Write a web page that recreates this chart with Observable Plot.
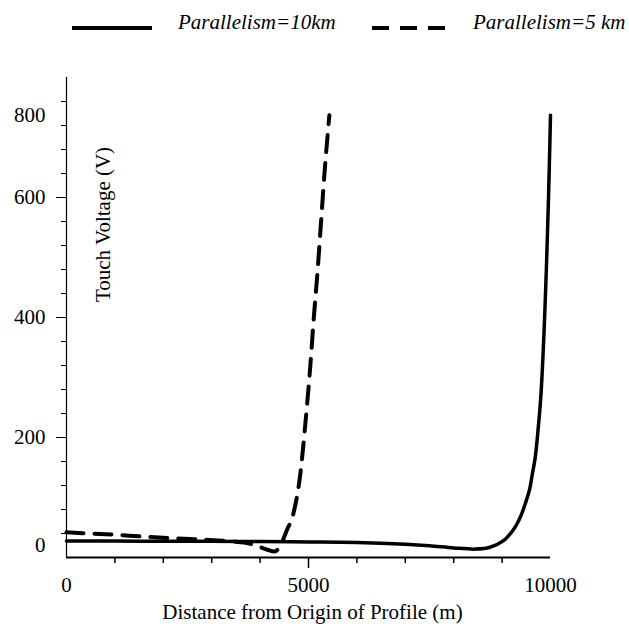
<!DOCTYPE html>
<html>
<head>
<meta charset="utf-8">
<script src="https://cdn.jsdelivr.net/npm/d3@7"></script>
<script src="https://cdn.jsdelivr.net/npm/@observablehq/plot@0.6"></script>
<style>
  html, body { margin: 0; padding: 0; background: #fff; }
  #wrap { width: 629px; height: 624px; position: relative; font-family: "Liberation Serif", "Times New Roman", serif; }
  #legend { display: block; }
</style>
</head>
<body>
<div id="wrap">
  <svg id="legend" width="629" height="60"></svg>
  <div id="chart"></div>
</div>
<script>
// ---- data ----
const seriesNames = ["Parallelism=10km", "Parallelism=5 km"];

const distance10 = [0, 1000, 2000, 3000, 4000, 5000, 6000, 7000, 7500, 8000, 8450, 8750, 9030, 9230, 9320, 9400, 9480, 9567, 9620, 9685, 9740, 9800, 9850, 9890, 9920, 9950, 9975, 10000];
const voltage10  = [27.5, 27.5, 27, 27, 26.5, 26, 25, 22, 19.5, 16, 14, 17, 28, 46, 58, 72, 90, 113, 137, 167, 210, 268, 345, 425, 495, 575, 650, 737];

const distance5 = [0, 500, 1000, 1735, 2767, 3400, 3800, 4150, 4300, 4420, 4550, 4687, 4832, 4935, 5035, 5110, 5190, 5260, 5330, 5431];
const voltage5  = [42, 40, 38, 34, 30, 27, 23, 13, 10, 20, 45, 73, 140, 223, 317, 400, 480, 560, 640, 737];

const xTitle = "Distance from Origin of Profile (m)";
const yTitle = "Touch Voltage (V)";
const xMinorTicks = [1000, 2000, 3000, 4000, 6000, 7000, 8000, 9000];
const xMajorTicks = [5000];
const xLabelTicks = [0, 5000, 10000];
const yMinorTicks = [40, 80, 120, 160, 240, 280, 320, 360, 440, 480, 520, 560, 640, 680, 720, 760];
const yMajorTicks = [200, 400, 600];
// label positions as they sit in the reference picture
const yLabelAt = [20, 200, 400, 600, 737];
const yLabels  = ["0", "200", "400", "600", "800"];

// ---- build tables ----
const solid = distance10.map((d, i) => ({distance: d, voltage: voltage10[i]}));
const dashed = distance5.map((d, i) => ({distance: d, voltage: voltage5[i]}));

// ---- legend ----
const leg = d3.select("#legend");
leg.append("line").attr("x1", 72).attr("x2", 152).attr("y1", 28).attr("y2", 28)
  .attr("stroke", "#000").attr("stroke-width", 4);
leg.append("text").attr("x", 178).attr("y", 29).text(seriesNames[0])
  .attr("font-family", "Liberation Serif").attr("font-style", "italic").attr("font-size", 21).attr("fill", "#000");
leg.append("line").attr("x1", 372).attr("x2", 445).attr("y1", 28).attr("y2", 28)
  .attr("stroke", "#000").attr("stroke-width", 4).attr("stroke-dasharray", "17,11");
leg.append("text").attr("x", 473).attr("y", 29).text(seriesNames[1])
  .attr("font-family", "Liberation Serif").attr("font-style", "italic").attr("font-size", 21).attr("fill", "#000");

// ---- plot ----
const fs = 21;
const chart = Plot.plot({
  width: 629,
  height: 564,
  marginLeft: 66,
  marginRight: 79,
  marginTop: 17,
  marginBottom: 67,
  style: {fontFamily: "Liberation Serif", color: "#000", background: "#fff", overflow: "visible"},
  x: {domain: [0, 10000]},
  y: {domain: [0, 800]},
  marks: [
    Plot.ruleX([0], {stroke: "#000", strokeWidth: 1.2}),
    Plot.ruleY([0], {stroke: "#000", strokeWidth: 2}),
    Plot.axisY({ticks: yMinorTicks, tickSize: 5, tickFormat: () => "", label: null, strokeWidth: 1}),
    Plot.axisY({ticks: yMajorTicks, tickSize: 10, tickFormat: () => "", label: null, strokeWidth: 1}),
    Plot.axisY({ticks: yLabelAt, tickSize: 0, tickPadding: 21, tickFormat: d => yLabels[yLabelAt.indexOf(d)], label: null, fontSize: fs}),
    Plot.axisX({ticks: xMinorTicks, tickSize: 6, tickFormat: () => "", label: null, strokeWidth: 1.5}),
    Plot.axisX({ticks: xMajorTicks, tickSize: 11, tickFormat: () => "", label: null, strokeWidth: 1.5}),
    Plot.axisX({ticks: xLabelTicks, tickSize: 0, tickPadding: 20, tickFormat: d => String(d), label: null, fontSize: fs}),
    Plot.text([xTitle], {frameAnchor: "bottom", dy: 55, dx: 4, lineAnchor: "middle", textAnchor: "middle", fontSize: fs, fill: "#000"}),
    Plot.text([yTitle], {frameAnchor: "left", dx: 37, dy: -93, rotate: -90, lineAnchor: "middle", textAnchor: "middle", fontSize: fs, fill: "#000"}),
    Plot.line(solid, {x: "distance", y: "voltage", stroke: "#000", strokeWidth: 3.5, curve: "catmull-rom", strokeLinecap: "round"}),
    Plot.line(dashed, {x: "distance", y: "voltage", stroke: "#000", strokeWidth: 4, strokeDasharray: "17,11", curve: "monotone-x"})
  ]
});
document.getElementById("chart").appendChild(chart);
</script>
</body>
</html>
